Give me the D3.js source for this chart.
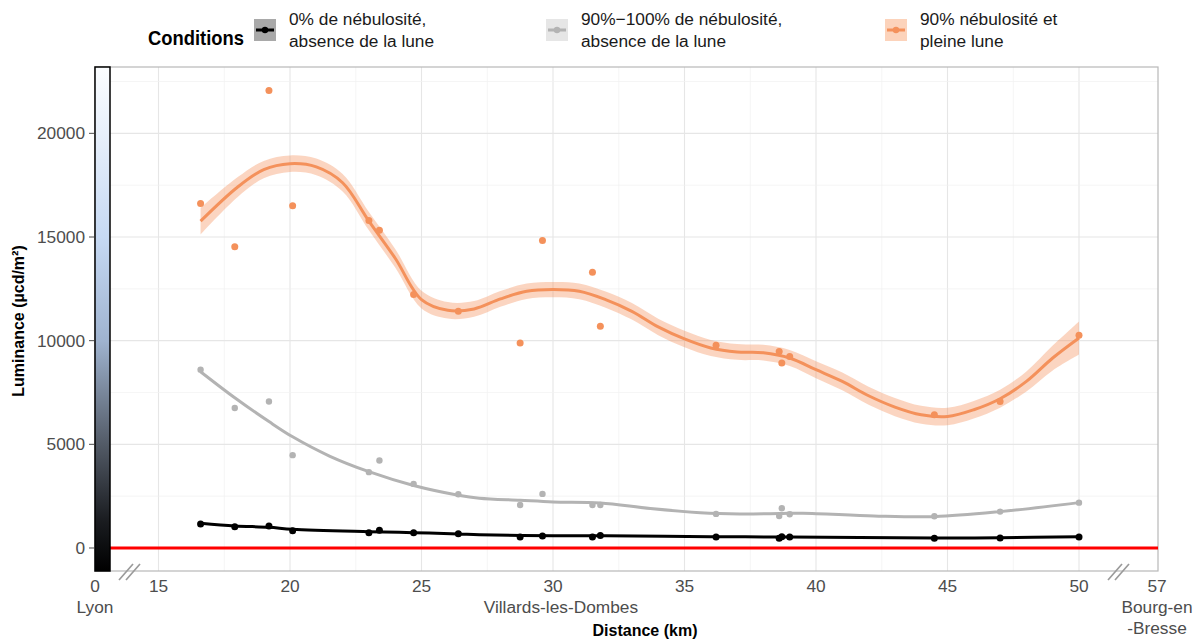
<!DOCTYPE html>
<html><head><meta charset="utf-8">
<script src="https://cdn.jsdelivr.net/npm/d3@7"></script>
<style>body{margin:0;background:#fff}svg{display:block}</style>
</head><body>
<svg id="c" width="1204" height="640"></svg>
<script>
// ---- data ----
const distances = [16.6,17.9,19.2,20.1,23.0,23.4,24.7,26.4,28.75,29.6,31.5,31.8,36.2,38.6,38.7,39.0,44.5,47.0,50.0];
const clearNoMoon = [1159,1029,1063,836,739,855,739,691,531,580,531,604,531,469,546,531,469,483,531];
const cloudyNoMoon = [8599,6749,7068,4478,3657,4217,3092,2594,2077,2609,2077,2077,1643,1546,1918,1628,1531,1754,2188];
const cloudyFullMoon = [16618,14527,22063,16507,15797,15329,12222,11415,9889,14831,13300,10691,9773,9483,8923,9242,6425,7068,10256];

// smoothed fits
const fitDistMoon = [16.6,18,19,20,21,22,23,24,25,26,27,28,29,30,31,32,33,34,35,36,37,38,39,40,41,42,43,44,45,46,47,48,49,50];
const fitMoon = [15763,17400,18250,18536,18382,17618,15763,13975,11981,11464,11531,12014,12382,12464,12382,11981,11415,10662,10082,9647,9454,9420,9164,8599,8034,7343,6797,6425,6343,6667,7198,8034,9164,10130];
const fitMoonSE = [640,480,420,400,400,420,440,450,430,400,380,380,370,370,380,390,400,400,400,390,380,380,390,410,430,440,440,430,420,420,430,480,600,800];
const fitDistCloudy = [16.6,17.9,19.2,20.1,21.5,23,24.7,26.4,27.2,28.75,30,31.8,33.7,35.6,37.1,38.6,39.5,42.2,44.5,47,50];
const fitCloudy = [8502,7246,6097,5362,4435,3681,3014,2546,2400,2300,2222,2174,1900,1700,1640,1660,1680,1546,1512,1754,2188];
const fitDistClear = [16.6,17.9,19.2,20.1,23,24.7,26.4,27.2,30,32,36,39,44.5,47,50];
const fitClear = [1190,1063,1000,903,787,739,676,640,590,585,545,530,480,495,540];

const xTicks = [0,15,20,25,30,35,40,45,50,57];
const yTicks = [0,5000,10000,15000,20000];
const placeLabels = [{d:0,t:["Lyon"]},{d:30.3,t:["Villards-les-Dombes"]},{d:57,t:["Bourg-en","-Bresse"]}];
const legendTitle = "Conditions";
const legendLabels = [["0% de nébulosité,","absence de la lune"],["90%−100% de nébulosité,","absence de la lune"],["90% nébulosité et","pleine lune"]];

(function(){
// ---- layout ----
const svg = d3.select("#c");
const pL = 95, pR = 1158, pT = 67, pB = 571;
const x = d3.scaleLinear().domain([0,15,50,57]).range([95,158.5,1079,1157]);
const y = d3.scaleLinear().domain([-1110,23200]).range([pB, pT]);
const font = "'Liberation Sans', Arial, sans-serif";
const fs = 17.3;

const colBlack = "#000000", colGray = "#b3b3b3", colOrange = "#f4915b";

// gradient
const defs = svg.append("defs");
const g = defs.append("linearGradient").attr("id","lum").attr("x1",0).attr("y1",0).attr("x2",0).attr("y2",1);
[[0,"#fbfdff"],[0.13,"#e8f0fb"],[0.337,"#c6d9f3"],[0.544,"#9fb3cf"],[0.75,"#525a66"],[0.9,"#1a1c20"],[1,"#000"]]
  .forEach(s=>g.append("stop").attr("offset",s[0]).attr("stop-color",s[1]));

// gridlines
const gx = [];
for (let v=15; v<=50; v+=2.5) gx.push(v);
svg.append("g").selectAll("line").data(gx).join("line")
  .attr("x1",d=>x(d)).attr("x2",d=>x(d)).attr("y1",pT).attr("y2",pB)
  .attr("stroke", d=> d%5===0 ? "#e6e6e6" : "#f0f0f0").attr("stroke-width", d=> d%5===0 ? 1.1 : 0.7);
const gy = [];
for (let v=0; v<=22500; v+=2500) gy.push(v);
svg.append("g").selectAll("line").data(gy).join("line")
  .attr("x1",110).attr("x2",pR).attr("y1",d=>y(d)).attr("y2",d=>y(d))
  .attr("stroke", d=> d%5000===0 ? "#e6e6e6" : "#f0f0f0").attr("stroke-width", d=> d%5000===0 ? 1.1 : 0.7);

// panel border
svg.append("rect").attr("x",pL).attr("y",pT).attr("width",pR-pL).attr("height",pB-pT)
  .attr("fill","none").attr("stroke","#b8b8b8").attr("stroke-width",1.2);

// red zero line
svg.append("line").attr("x1",110).attr("x2",pR).attr("y1",y(0)).attr("y2",y(0))
  .attr("stroke","#ff0000").attr("stroke-width",3);

// gradient bar
svg.append("rect").attr("x",pL).attr("y",pT).attr("width",15).attr("height",pB-pT)
  .attr("fill","url(#lum)").attr("stroke","#000").attr("stroke-width",1.5);

// bands and lines
const area = d3.area().x(d=>x(d[0])).y0(d=>y(d[1]-d[2])).y1(d=>y(d[1]+d[2])).curve(d3.curveCatmullRom.alpha(0.5));
const line = d3.line().x(d=>x(d[0])).y(d=>y(d[1])).curve(d3.curveCatmullRom.alpha(0.5));

const moonFit = fitDistMoon.map((d,i)=>[d,fitMoon[i],fitMoonSE[i]]);
svg.append("path").datum(moonFit).attr("d",area).attr("fill",colOrange).attr("fill-opacity",0.38);

const series = [
  {fd:fitDistCloudy, fv:fitCloudy, pts:cloudyNoMoon, c:colGray, r:3.2, w:3},
  {fd:fitDistClear, fv:fitClear, pts:clearNoMoon, c:colBlack, r:3.5, w:3},
  {fd:fitDistMoon, fv:fitMoon, pts:cloudyFullMoon, c:colOrange, r:3.5, w:3}
];
series.forEach(s=>{
  svg.append("path").datum(s.fd.map((d,i)=>[d,s.fv[i]])).attr("d",line)
    .attr("fill","none").attr("stroke",s.c).attr("stroke-width",s.w);
  svg.append("g").selectAll("circle").data(distances.map((d,i)=>[d,s.pts[i]])).join("circle")
    .attr("cx",d=>x(d[0])).attr("cy",d=>y(d[1])).attr("r",s.r).attr("fill",s.c);
});

// y axis ticks/labels
const ya = svg.append("g");
yTicks.forEach(v=>{
  ya.append("line").attr("x1",89).attr("x2",94).attr("y1",y(v)).attr("y2",y(v)).attr("stroke","#4d4d4d").attr("stroke-width",1);
  ya.append("text").attr("x",85).attr("y",y(v)).attr("dy","0.35em").attr("text-anchor","end")
    .attr("font-family",font).attr("font-size",fs).attr("fill","#4d4d4d").text(v);
});
svg.append("text").attr("transform","translate(24,321) rotate(-90)").attr("text-anchor","middle")
  .attr("font-family",font).attr("font-size",16).attr("font-weight","bold").attr("fill","#000").text("Luminance (µcd/m²)");

// x axis labels
const xa = svg.append("g");
xTicks.forEach(v=>{
  xa.append("text").attr("x",x(v)).attr("y",592).attr("text-anchor","middle")
    .attr("font-family",font).attr("font-size",fs).attr("fill","#4d4d4d").text(v);
});
placeLabels.forEach(p=>{
  p.t.forEach((t,i)=>{
    xa.append("text").attr("x",x(p.d)).attr("y",613+i*21).attr("text-anchor","middle")
      .attr("font-family",font).attr("font-size",fs).attr("fill","#4d4d4d").text(t);
  });
});
svg.append("text").attr("x",645).attr("y",636).attr("text-anchor","middle")
  .attr("font-family",font).attr("font-size",16).attr("font-weight","bold").attr("fill","#000").text("Distance (km)");

// axis break marks
[[119,126],[1108,1115]].forEach(pair=>{
  pair.forEach(bx=>{
    svg.append("line").attr("x1",bx).attr("y1",580).attr("x2",bx+14).attr("y2",564)
      .attr("stroke","#9a9a9a").attr("stroke-width",1.6);
  });
});

// legend
svg.append("text").attr("x",148).attr("y",45).attr("font-family","'Liberation Sans Narrow', 'Liberation Sans', Arial, sans-serif")
  .attr("font-size",21).attr("font-weight","bold").attr("fill","#000")
  .attr("textLength",96).attr("lengthAdjust","spacingAndGlyphs").text(legendTitle);
const keys = [
  {x:254, fill:"#a9a9a9", c:colBlack, tx:289},
  {x:546, fill:"#e6e6e6", c:colGray, tx:581},
  {x:885, fill:"#fcd3bb", c:colOrange, tx:920}
];
keys.forEach((k,i)=>{
  svg.append("rect").attr("x",k.x).attr("y",19).attr("width",22).attr("height",22).attr("fill",k.fill);
  svg.append("line").attr("x1",k.x+2).attr("x2",k.x+20).attr("y1",30).attr("y2",30).attr("stroke",k.c).attr("stroke-width",3);
  svg.append("circle").attr("cx",k.x+11).attr("cy",30).attr("r",3.2).attr("fill",k.c);
  legendLabels[i].forEach((t,j)=>{
    svg.append("text").attr("x",k.tx).attr("y",25+j*22).attr("font-family",font).attr("font-size",fs).attr("fill","#1a1a1a").text(t);
  });
});
})();
</script>
</body></html>
